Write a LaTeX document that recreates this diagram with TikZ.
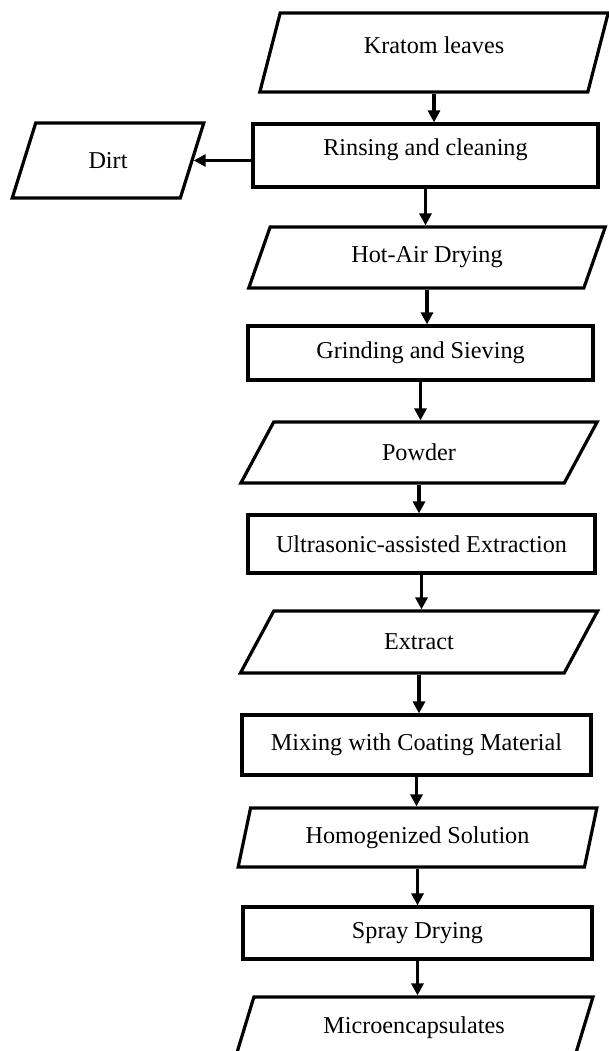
\documentclass[tikz,border=0pt]{standalone}
\usepackage{fontspec}
\setmainfont{Liberation Serif}
\usetikzlibrary{shapes.geometric, arrows.meta, positioning}

\begin{document}
\begin{tikzpicture}[
    x=0.5pt, y=-0.5pt,
    every node/.style={font=\fontsize{12.1}{14}\selectfont},
    process/.style={
        rectangle,
        draw=black,
        line width=1.6pt,
        minimum width=173pt,
        minimum height=29pt
    },
    io/.style={
        trapezium,
        trapezium left angle=72,
        trapezium right angle=108,
        trapezium stretches=true,
        draw=black,
        line width=1.6pt,
        minimum width=179pt,
        minimum height=30.5pt
    },
    flow/.style={-{Triangle[length=6pt, width=6pt]}, line width=1.6pt}
]
\useasboundingbox (0,0) rectangle (609,1051);

\node[io, trapezium left angle=77, trapezium right angle=103, text depth=7pt,
      minimum width=175.5pt, minimum height=39.5pt] (kratom) at (434,52.5) {Kratom leaves};
\node[process, text depth=8.5pt, minimum width=172.5pt, minimum height=31.5pt] (rinse) at (425.5,155.5) {Rinsing and cleaning};
\node[io, trapezium left angle=74, trapezium right angle=106,
      minimum width=96pt, minimum height=37.5pt] (dirt) at (108,160.5) {Dirt};
\node[io, minimum width=180pt] (hotair) at (427,257.5) {Hot-Air Drying};
\node[process, minimum width=172.5pt, minimum height=27pt] (grind) at (420.5,353) {Grinding and Sieving};
\node[io] (powder) at (419,452.5) {Powder};
\node[process, minimum width=173.5pt] (ultra) at (421.5,544) {Ultrasonic-assisted Extraction};
\node[io, minimum height=31pt] (extract) at (419,642) {Extract};
\node[process, minimum width=174.5pt, minimum height=30pt] (mixing) at (416.5,745) {Mixing with Coating Material};
\node[io, trapezium left angle=76, trapezium right angle=104,
      minimum width=179.5pt, minimum height=29.5pt] (homog) at (417.5,837.5) {Homogenized Solution};
\node[process, minimum width=174.5pt, minimum height=26pt] (spray) at (417.5,933) {Spray Drying};
\node[io, minimum height=31pt] (micro) at (414,1028) {Microencapsulates};

\draw[flow] (kratom.south) -- (kratom.south |- rinse.north);
\draw[flow] (rinse.west |- dirt.east) -- (dirt.east);
\draw[flow] (rinse.south) -- (rinse.south |- hotair.north);
\draw[flow] (hotair.south) -- (hotair.south |- grind.north);
\draw[flow] (grind.south) -- (grind.south |- powder.north);
\draw[flow] (powder.south) -- (powder.south |- ultra.north);
\draw[flow] (ultra.south) -- (ultra.south |- extract.north);
\draw[flow] (extract.south) -- (extract.south |- mixing.north);
\draw[flow] (mixing.south) -- (mixing.south |- homog.north);
\draw[flow] (homog.south) -- (homog.south |- spray.north);
\draw[flow] (spray.south) -- (spray.south |- micro.north);

\end{tikzpicture}
\end{document}
